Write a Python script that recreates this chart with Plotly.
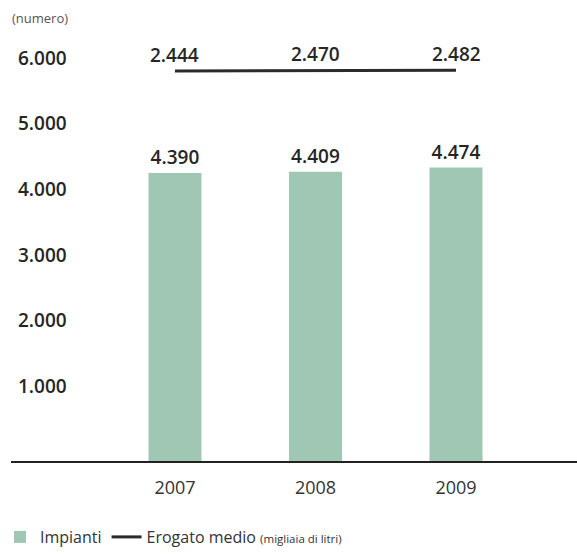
import plotly.graph_objects as go

years = ["2007", "2008", "2009"]
impianti = [4390, 4409, 4474]
erogato_medio = [2444, 2470, 2482]
y_tick_vals = [1000, 2000, 3000, 4000, 5000, 6000]
y_tick_text = ["1.000", "2.000", "3.000", "4.000", "5.000", "6.000"]

FONT = "Open Sans"
BAR_COLOR = "#9fc7b4"
TEXT_DARK = "#262626"


def it_fmt(v):
    return f"{v:,}".replace(",", ".")


fig = go.Figure()
fig.add_trace(go.Bar(
    x=years, y=impianti, name="Impianti",
    marker=dict(color=BAR_COLOR, line=dict(width=0)),
    width=0.377,
    text=[it_fmt(v) for v in impianti],
    textposition="outside", cliponaxis=False,
    textfont=dict(family=FONT, size=19, color=TEXT_DARK, weight=600),
))
fig.add_trace(go.Scatter(
    x=years, y=erogato_medio, yaxis="y2", mode="lines",
    name="Erogato medio <span style='font-size:11.5px'>(migliaia di litri)</span>",
    line=dict(color="#2b2b2b", width=3),
    cliponaxis=False,
))

K = 20000
frac = 0.906
mid = sum(erogato_medio) / len(erogato_medio)

annotations = [dict(
    text="(numero)", xref="paper", yref="paper",
    x=-0.002, y=1.028, xanchor="left", yanchor="middle",
    showarrow=False, font=dict(family=FONT, size=13, color="#555"),
)]
for i, v in enumerate(erogato_medio):
    annotations.append(dict(
        x=i, y=v, xref="x", yref="y2", text=it_fmt(v),
        showarrow=False, yshift=16, yanchor="middle",
        font=dict(family=FONT, size=19, color=TEXT_DARK, weight=600),
    ))

fig.update_layout(
    width=577, height=554,
    margin=dict(l=11, r=0, t=30, b=93),
    paper_bgcolor="white", plot_bgcolor="white",
    font=dict(family=FONT, color=TEXT_DARK),
    showlegend=True,
    xaxis=dict(
        type="category", range=[-1.167, 2.861],
        showgrid=False, zeroline=False,
        showline=True, linecolor="#222", linewidth=2,
        ticks="", ticklabelstandoff=9,
        tickfont=dict(family=FONT, size=18, color="#333"),
    ),
    yaxis=dict(
        range=[0, 6570], showgrid=False, zeroline=False, showline=False,
        tickvals=y_tick_vals, ticktext=y_tick_text,
        ticklabelposition="inside top", ticklabelshift=4, ticklabelstandoff=4,
        tickfont=dict(family=FONT, size=19, color=TEXT_DARK, weight=600),
    ),
    yaxis2=dict(
        overlaying="y", range=[mid - frac * K, mid + (1 - frac) * K],
        showgrid=False, zeroline=False, showline=False,
        showticklabels=False, ticks="",
    ),
    legend=dict(
        orientation="h", xref="container", yref="container",
        x=0.0, y=0.0, xanchor="left", yanchor="bottom",
        font=dict(family=FONT, size=16, color="#333"),
        itemwidth=30, tracegroupgap=0,
    ),
    annotations=annotations,
)

fig.write_html("out.html", post_script="document.body.style.margin='0';",
               config={"displayModeBar": False})
